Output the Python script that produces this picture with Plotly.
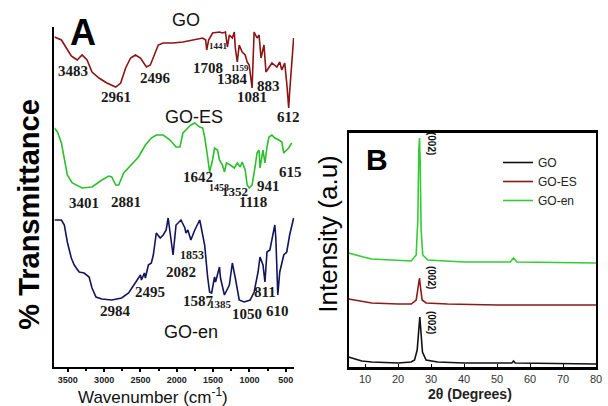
import plotly.graph_objects as go

# ---------------- Panel A: FTIR (wavenumber cm-1, stacked % transmittance, arbitrary offsets)
go_wn = [3684, 3588, 3520, 3452, 3412, 3371, 3303, 3235, 3167, 3071, 2963, 2840, 2772, 2704, 2636,
         2568, 2500, 2418, 2364, 2296, 2255, 2187, 2051, 1915, 1779, 1643, 1602, 1588, 1561, 1507,
         1412, 1371, 1330, 1303, 1276, 1235, 1208, 1194, 1167, 1140, 1099, 1058, 1031, 1003, 963,
         935, 895, 867, 840, 799, 772, 731, 690, 622, 582, 554, 514, 486, 459, 446, 391]
go_t = [330, 327, 319, 311, 309, 307, 312, 307, 295, 289, 284, 280, 284, 299, 309,
        312, 309, 300, 302, 315, 322, 324, 324, 325, 327, 329, 327, 317, 327, 334,
        335, 334, 335, 320, 332, 329, 335, 319, 305, 322, 315, 312, 305, 302, 279,
        335, 329, 332, 309, 322, 295, 299, 304, 300, 305, 297, 304, 284, 259, 275, 329]

es_wn = [3684, 3643, 3588, 3548, 3507, 3439, 3303, 3167, 3031, 2935, 2895, 2840, 2799, 2731, 2622,
         2527, 2432, 2350, 2282, 2187, 2092, 2010, 1956, 1915, 1847, 1806, 1752, 1684, 1643, 1616,
         1575, 1548, 1507, 1480, 1439, 1412, 1371, 1344, 1316, 1262, 1208, 1167, 1126, 1099, 1058,
         1031, 1003, 963, 922, 895, 867, 854, 813, 786, 758, 731, 690, 650, 595, 554, 527, 514, 459, 418]
es_t = [239, 235, 224, 207, 192, 184, 179, 180, 187, 191, 190, 182, 182, 194, 202,
        210, 222, 229, 232, 232, 227, 220, 220, 234, 239, 242, 244, 240, 239, 230,
        210, 195, 207, 219, 217, 207, 202, 195, 204, 202, 199, 204, 200, 205, 197,
        182, 179, 182, 200, 214, 217, 199, 217, 204, 220, 230, 232, 229, 227, 225, 214, 215, 219, 224]

en_wn = [3684, 3588, 3548, 3507, 3452, 3412, 3344, 3276, 3207, 3167, 3112, 3031, 2895, 2759, 2663,
         2595, 2554, 2500, 2486, 2446, 2432, 2391, 2350, 2323, 2282, 2228, 2187, 2146, 2119, 2078,
         2051, 2010, 1942, 1888, 1874, 1847, 1806, 1752, 1684, 1670, 1616, 1575, 1548, 1520, 1480,
         1466, 1412, 1398, 1344, 1276, 1235, 1194, 1140, 1072, 990, 935, 881, 854, 813, 786,
         758, 718, 650, 636, 609, 582, 527, 486, 446, 391]
en_t = [147, 147, 142, 125, 109, 102, 95, 94, 90, 79, 70, 68, 67, 69, 74,
        82, 87, 92, 87, 94, 89, 102, 104, 112, 134, 129, 132, 137, 149, 125,
        112, 142, 147, 139, 134, 137, 127, 137, 147, 142, 122, 90, 75, 74, 90,
        85, 100, 89, 72, 82, 104, 89, 67, 65, 67, 75, 95, 110, 102, 85,
        115, 117, 142, 129, 72, 95, 112, 115, 132, 149]

xa_ticks = [3500, 3000, 2500, 2000, 1500, 1000, 500]

# peak labels: text, anchor wavenumber, anchor height, font size
go_peaks = ["3483", "2961", "2496", "1708", "1441", "1159", "1384", "883", "1081", "612"]
go_peak_wn = [3425, 2840, 2296, 1575, 1425, 1126, 1235, 731, 963, 459]
go_peak_y = [296, 270, 289, 299, 321, 299, 288, 281, 270, 250]
go_peak_fs = [15, 15, 15, 15, 9, 9, 15, 15, 15, 15]

es_peaks = ["3401", "2881", "1642", "1458", "1352", "1118", "941", "615"]
es_peak_wn = [3276, 2704, 1711, 1425, 1194, 949, 731, 432]
es_peak_y = [164, 165, 190, 180, 176, 165, 181, 195]
es_peak_fs = [15, 15, 15, 10, 13, 15, 15, 15]

en_peaks = ["1853", "2082", "2495", "2984", "1587", "1385", "1050", "811", "610"]
en_peak_wn = [1793, 1942, 2364, 2840, 1697, 1398, 1031, 786, 609]
en_peak_y = [112, 95, 75, 56, 66, 63, 53, 75, 56]
en_peak_fs = [12, 15, 15, 15, 15, 11, 15, 15, 15]

# ---------------- Panel B: XRD
xrd_go_2t = [5, 7, 9, 12, 20, 24, 25, 25.8, 26.3, 26.6, 26.9, 27.4, 28.5, 32, 40, 54.5, 55, 55.5, 80]
xrd_go_i = [10, 8, 6, 5, 4, 5, 7, 17, 42, 50, 37, 15, 7, 5, 4, 4, 6, 4, 3]

xrd_es_2t = [5, 8, 12, 20, 24, 25.5, 26.2, 26.5, 26.8, 27.3, 28.5, 35, 50, 80]
xrd_es_i = [68, 66, 64, 63, 63, 67, 82, 89, 80, 67, 64, 63, 62, 62]

xrd_en_2t = [5, 7, 9.5, 12, 20, 24, 25.5, 26, 26.3, 26.5, 26.7, 27, 27.5, 29, 40, 54, 55, 56, 80]
xrd_en_i = [114, 112, 110, 108, 107, 106, 112, 147, 217, 229, 207, 137, 112, 107, 105, 105, 109, 105, 104]

xb_ticks = [10, 20, 30, 40, 50, 60, 70, 80]
xrd_names = ["GO", "GO-ES", "GO-en"]
xrd_colors = ["#111111", "#8B1A1A", "#33CC33"]

W, H = 608, 406
def px(x):
    return x / W
def py(y):
    return 1 - y / H

fig = go.Figure()

# FTIR traces
fig.add_trace(go.Scatter(x=go_wn, y=go_t, mode="lines", line=dict(color="#8B1414", width=1.6),
                         xaxis="x", yaxis="y", showlegend=False))
fig.add_trace(go.Scatter(x=es_wn, y=es_t, mode="lines", line=dict(color="#2DBE2D", width=1.6),
                         xaxis="x", yaxis="y", showlegend=False))
fig.add_trace(go.Scatter(x=en_wn, y=en_t, mode="lines", line=dict(color="#14145E", width=1.6),
                         xaxis="x", yaxis="y", showlegend=False))

# XRD traces
for xs, ys, nm, col in zip([xrd_go_2t, xrd_es_2t, xrd_en_2t], [xrd_go_i, xrd_es_i, xrd_en_i],
                           xrd_names, xrd_colors):
    fig.add_trace(go.Scatter(x=xs, y=ys, mode="lines", name=nm, line=dict(color=col, width=1.6),
                             xaxis="x2", yaxis="y2"))

ann = []
serif = "Liberation Serif, Times New Roman, serif"
sans = "Liberation Sans, Arial, sans-serif"
C = dict(xanchor="center", yanchor="middle", showarrow=False)
for texts, xs, ys, fss in [(go_peaks, go_peak_wn, go_peak_y, go_peak_fs),
                           (es_peaks, es_peak_wn, es_peak_y, es_peak_fs),
                           (en_peaks, en_peak_wn, en_peak_y, en_peak_fs)]:
    for t, xv, yv, fs in zip(texts, xs, ys, fss):
        ann.append(dict(text=t, x=xv, y=yv, xref="x", yref="y", **C,
                        font=dict(family=serif, size=fs, color="#1a1a1a", weight="bold")))

# sample labels panel A
for t, x, y in [("GO", 188, 20), ("GO-ES", 196, 117), ("GO-en", 193, 332)]:
    ann.append(dict(text=t, x=px(x), y=py(y), xref="paper", yref="paper", **C,
                    font=dict(family=sans, size=18, color="#111")))

ann.append(dict(text="A", x=px(84), y=py(32), xref="paper", yref="paper", **C,
                font=dict(family=sans, size=36, color="#000", weight="bold")))
ann.append(dict(text="B", x=px(381), y=py(159), xref="paper", yref="paper", **C,
                font=dict(family=sans, size=30, color="#000", weight="bold")))
ann.append(dict(text="% Transmittance", x=px(29), y=py(215), xref="paper", yref="paper",
                textangle=-90, **C,
                font=dict(family=sans, size=29, color="#000", weight="bold")))
ann.append(dict(text="Wavenumber (cm<sup>-1</sup>)", x=px(155), y=py(396), xref="paper", yref="paper",
                **C, font=dict(family=sans, size=17, color="#111")))
ann.append(dict(text="Intensity (a.u)", x=px(331), y=py(234), xref="paper", yref="paper",
                textangle=-90, **C, font=dict(family=sans, size=26, color="#000")))
ann.append(dict(text="2θ (Degrees)", x=px(475), y=py(394), xref="paper", yref="paper",
                **C, font=dict(family=sans, size=14, color="#222", weight="bold")))
for yv in [224, 90, 45]:
    ann.append(dict(text="(002)", x=30.3, y=yv, xref="x2", yref="y2", textangle=90, **C,
                    font=dict(family=sans, size=10, color="#111", weight="bold")))

fig.update_layout(
    width=W, height=H, margin=dict(l=0, r=0, t=0, b=0),
    paper_bgcolor="white", plot_bgcolor="white",
    annotations=ann,
    xaxis=dict(domain=[px(55), px(297)], range=[3684, 385], anchor="y",
               tickvals=xa_ticks, ticks="outside", ticklen=3, tickwidth=1.5, tickcolor="#000",
               minor=dict(dtick=250, tick0=0, ticks="outside", ticklen=2, tickcolor="#000"),
               showline=True, linecolor="#000", linewidth=2, showgrid=False, zeroline=False,
               ticklabeloverflow="allow",
               tickfont=dict(family=sans, size=9, color="#222", weight="bold")),
    yaxis=dict(domain=[py(367), py(27)], range=[0, 340], anchor="x",
               showline=True, linecolor="#000", linewidth=2, showticklabels=False,
               ticks="", showgrid=False, zeroline=False),
    xaxis2=dict(domain=[px(352), px(602)], range=[5, 80], anchor="y2",
                tickvals=xb_ticks, ticks="inside", ticklen=3, tickcolor="#000",
                showline=True, mirror=True, linecolor="#000", linewidth=2.5, showgrid=False,
                zeroline=False, ticklabeloverflow="allow",
                tickfont=dict(family=sans, size=11, color="#333")),
    yaxis2=dict(domain=[py(367), py(133)], range=[0, 234], anchor="x2",
                showline=True, mirror=True, linecolor="#000", linewidth=2, showticklabels=False,
                ticks="", showgrid=False, zeroline=False),
    legend=dict(x=px(503), y=py(148), xanchor="left", yanchor="top", bgcolor="rgba(0,0,0,0)",
                font=dict(family=sans, size=12, color="#222"), tracegroupgap=0, itemwidth=30),
)

fig.write_html("out.html", config={"displayModeBar": False},
               post_script="document.body.style.margin='0';")
